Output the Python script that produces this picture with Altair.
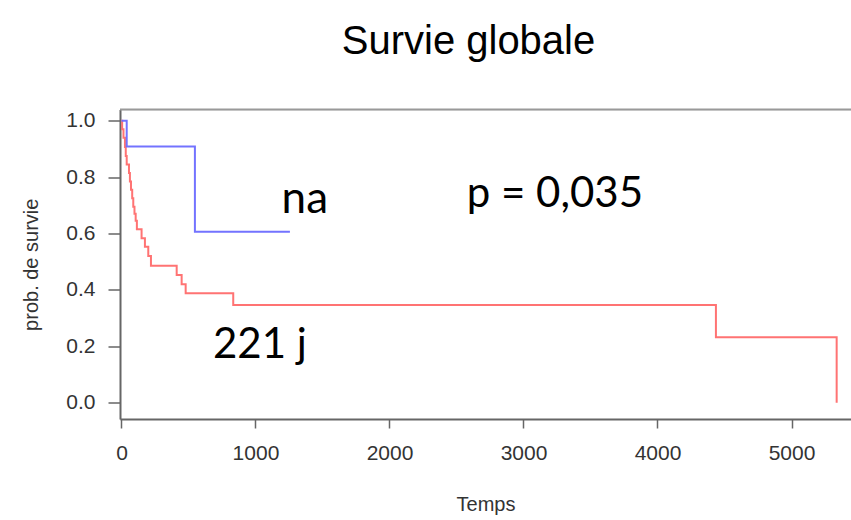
import altair as alt
import pandas as pd

# ---- data ----
blue_t = [0, 39, 548, 1257]
blue_s = [1.0, 0.909, 0.606, 0.606]

red_t = [0, 5, 15, 26, 32, 39, 56, 63, 71, 80, 88, 97, 106, 115, 150, 175, 200, 220,
         412, 449, 479, 834, 4436, 5337]
red_s = [1.0, 0.97, 0.94, 0.907, 0.875, 0.845, 0.815, 0.785, 0.755, 0.725, 0.695, 0.67,
         0.645, 0.615, 0.583, 0.553, 0.52, 0.486, 0.453, 0.42, 0.388, 0.346, 0.232, 0.0]

x_ticks = [0, 1000, 2000, 3000, 4000, 5000]
y_ticks = [0.0, 0.2, 0.4, 0.6, 0.8, 1.0]

# annotations (text, anchor in data units)
ann_na = {"label": ["na"], "t": [1195], "s": [0.674]}
ann_p = {"label": ["p = 0,035"], "t": [2576], "s": [0.695]}
ann_med = {"label": ["221 j"], "t": [683], "s": [0.157]}

W, H = 731, 309.5
x_scale = alt.Scale(domain=[-11, 5444], nice=False, zero=False)
y_scale = alt.Scale(domain=[-0.058, 1.04], nice=False, zero=False)

df_blue = pd.DataFrame({"t": blue_t, "s": blue_s})
df_red = pd.DataFrame({"t": red_t, "s": red_s})

axis_common = dict(
    labelFont="Liberation Sans", labelFontSize=21, labelColor="#333333",
    titleFont="Liberation Sans", titleFontSize=20, titleFontWeight="normal", titleColor="#333333",
    domainColor="#666666", domainWidth=2, tickColor="#666666", tickWidth=1.5,
    grid=False,
)

x_enc = alt.X("t:Q", scale=x_scale, title="Temps",
              axis=alt.Axis(values=x_ticks, format="d", tickSize=9, labelPadding=14,
                            titlePadding=31, **axis_common))
y_enc = alt.Y("s:Q", scale=y_scale, title="prob. de survie",
              axis=alt.Axis(values=y_ticks, format=".1f", tickSize=12, labelPadding=13,
                            titlePadding=24, **axis_common))

red_line = alt.Chart(df_red).mark_line(interpolate="step-after", color="#ff6b6b",
                                       strokeWidth=2, opacity=0.95).encode(x=x_enc, y=y_enc)
blue_line = alt.Chart(df_blue).mark_line(interpolate="step-after", color="#6b6bff",
                                         strokeWidth=2, opacity=0.95).encode(x=x_enc, y=y_enc)

top_rule = alt.Chart(pd.DataFrame({"a": [0]})).mark_rule(color="#999999", strokeWidth=2).encode(
    x=alt.value(0), x2=alt.value(W), y=alt.value(0))


def ann(d, size):
    return alt.Chart(pd.DataFrame(d)).mark_text(
        align="left", baseline="alphabetic", font="Lato", fontSize=size, color="#000000"
    ).encode(x=alt.X("t:Q", scale=x_scale), y=alt.Y("s:Q", scale=y_scale), text="label:N")


chart = alt.layer(
    top_rule, red_line, blue_line,
    ann(ann_na, 44), ann(ann_p, 42), ann(ann_med, 42),
).properties(
    width=W, height=H,
    title=alt.TitleParams("Survie globale", font="Liberation Sans",
                          fontSize=40, fontWeight="normal", color="#000000",
                          anchor="middle", dx=-17, offset=47),
    autosize=alt.AutoSizeParams(type="none"),
    padding={"left": 120, "top": 109.5, "right": 0, "bottom": 101},
).configure_view(stroke=None).configure(background="white")

chart.save("out.html", embed_options={"renderer": "svg", "actions": False})
